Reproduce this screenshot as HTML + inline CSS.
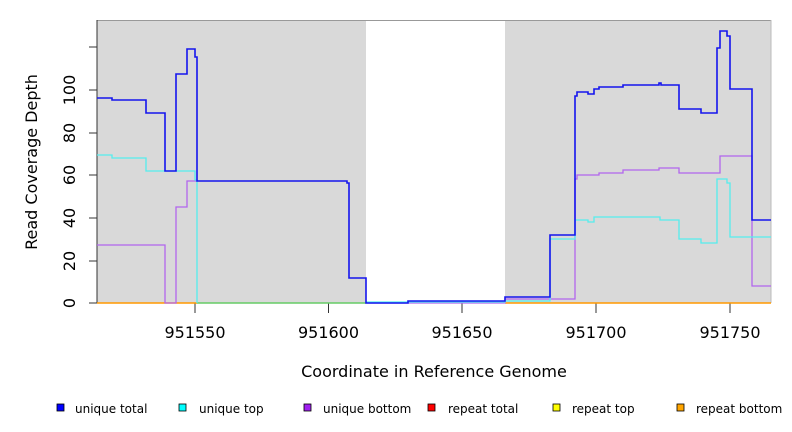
<!DOCTYPE html>
<html><head><meta charset="utf-8"><style>
body{margin:0;background:#fff;}
svg{display:block;font-family:"DejaVu Sans","Liberation Sans",sans-serif;}
</style></head><body>
<svg width="792" height="432" viewBox="0 0 792 432">
<rect x="97" y="20" width="269" height="283" fill="#d9d9d9"/>
<rect x="505" y="20" width="266" height="283" fill="#d9d9d9"/>
<line x1="97" y1="20.5" x2="771" y2="20.5" stroke="#999" stroke-width="1"/>
<line x1="771" y1="20" x2="771" y2="303" stroke="#bbb" stroke-width="1"/>
<g stroke="#333" stroke-width="1">
<line x1="97" y1="20" x2="97" y2="303"/>
<line x1="89" y1="303" x2="97" y2="303"/><line x1="89" y1="261" x2="97" y2="261"/>
<line x1="89" y1="218" x2="97" y2="218"/><line x1="89" y1="175" x2="97" y2="175"/>
<line x1="89" y1="133" x2="97" y2="133"/><line x1="89" y1="90" x2="97" y2="90"/>
<line x1="89" y1="47" x2="97" y2="47"/>
<line x1="195" y1="303" x2="195" y2="313"/><line x1="328.5" y1="303" x2="328.5" y2="313"/>
<line x1="462" y1="303" x2="462" y2="313"/><line x1="596" y1="303" x2="596" y2="313"/>
<line x1="730" y1="303" x2="730" y2="313"/>
</g>
<g font-size="16" fill="#000" text-anchor="middle">
<text transform="translate(75,303) rotate(-90)">0</text>
<text transform="translate(75,261) rotate(-90)">20</text>
<text transform="translate(75,218) rotate(-90)">40</text>
<text transform="translate(75,175) rotate(-90)">60</text>
<text transform="translate(75,133) rotate(-90)">80</text>
<text transform="translate(75,90) rotate(-90)">100</text>
<text x="195" y="338">951550</text><text x="328.5" y="338">951600</text>
<text x="462" y="338">951650</text><text x="596" y="338">951700</text>
<text x="730" y="338">951750</text>
<text x="434" y="377">Coordinate in Reference Genome</text>
<text transform="translate(37,162) rotate(-90)">Read Coverage Depth</text>
</g>
<line x1="97" y1="303" x2="197" y2="303" stroke="#ff9900" stroke-width="1.5"/>
<line x1="197" y1="303" x2="366" y2="303" stroke="#66cc66" stroke-width="1.5"/>
<line x1="505" y1="303" x2="771" y2="303" stroke="#ff9900" stroke-width="1.5"/>
<polyline fill="none" stroke="#b266ee" stroke-width="1.3" points="97,245 165,245 165,303 176,303 176,207 187,207 187,181 197,181"/>
<polyline fill="none" stroke="#b266ee" stroke-width="1.3" points="366,303 505,303 505,299 575,299 575,179 577,179 577,175 599,175 599,173 623,173 623,170 659,170 659,168 679,168 679,173 720,173 720,156 752,156 752,286 771,286"/>
<polyline fill="none" stroke="#55eeee" stroke-width="1.3" points="97,155 112,155 112,158 146,158 146,171 195,171 195,180 197,180 197,303"/>
<polyline fill="none" stroke="#55eeee" stroke-width="1.3" points="366,302 505,302 505,301 550,301 550,239 575,239 575,220 588,220 588,222 594,222 594,217 660,217 660,220 679,220 679,239 701,239 701,243 717,243 717,179 727,179 727,183 730,183 730,237 771,237"/>
<polyline fill="none" stroke="#1515ee" stroke-width="1.6" points="97,98 112,98 112,100 146,100 146,113 165,113 165,171 176,171 176,74 187,74 187,49 195,49 195,57 197,57 197,181 347,181 347,183 349,183 349,278 366,278 366,303 408,303 408,301 505,301 505,297 550,297 550,235 575,235 575,96 577,96 577,92 588,92 588,94 594,94 594,89 599,89 599,87 623,87 623,85 659,85 659,83 661,83 661,85 679,85 679,109 701,109 701,113 717,113 717,48 720,48 720,31 727,31 727,36 730,36 730,89 752,89 752,220 771,220"/>
<g font-size="12" fill="#000">
<rect x="57" y="404" width="7" height="7" fill="#0000ff" stroke="#000" stroke-width="0.8"/><text x="75" y="413">unique total</text>
<rect x="179" y="404" width="7" height="7" fill="#00ffff" stroke="#000" stroke-width="0.8"/><text x="199" y="413">unique top</text>
<rect x="304" y="404" width="7" height="7" fill="#a020f0" stroke="#000" stroke-width="0.8"/><text x="323" y="413">unique bottom</text>
<rect x="428" y="404" width="7" height="7" fill="#ff0000" stroke="#000" stroke-width="0.8"/><text x="448" y="413">repeat total</text>
<rect x="553" y="404" width="7" height="7" fill="#ffff00" stroke="#000" stroke-width="0.8"/><text x="572" y="413">repeat top</text>
<rect x="677" y="404" width="7" height="7" fill="#ffa500" stroke="#000" stroke-width="0.8"/><text x="696" y="413">repeat bottom</text>
</g>
</svg>
</body></html>
